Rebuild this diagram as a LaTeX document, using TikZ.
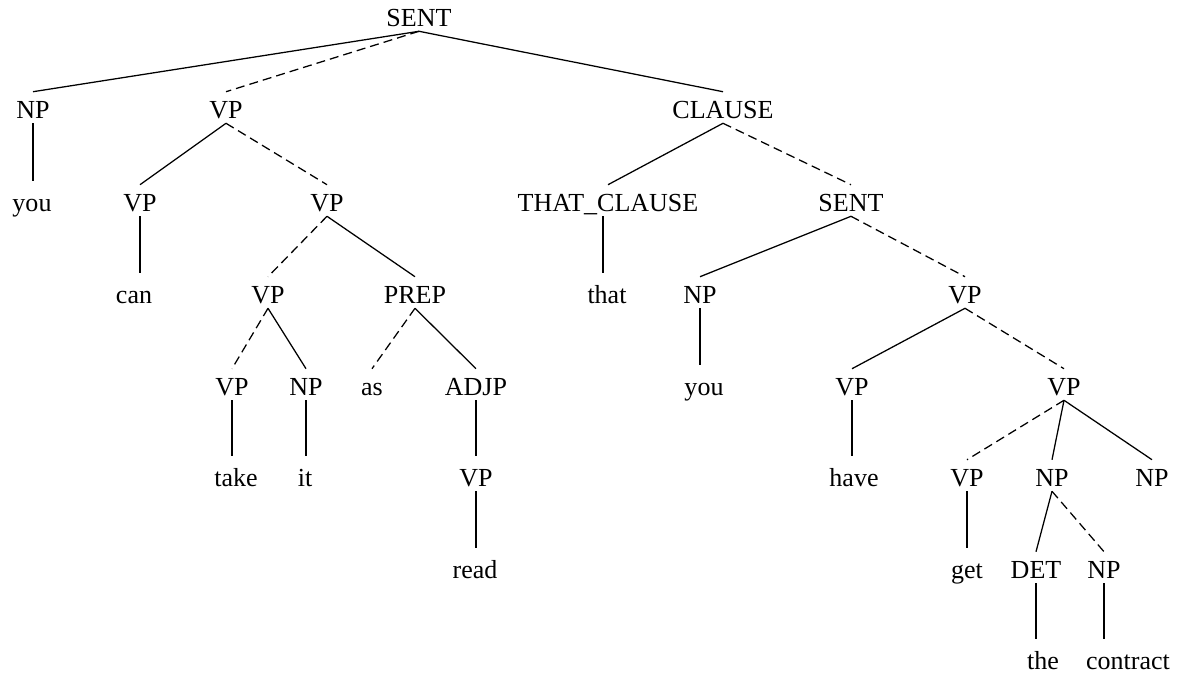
\documentclass[tikz,border=0pt]{standalone}
\usepackage{fontspec}
\setmainfont{Liberation Serif}
\tikzset{
  lbl/.style={inner sep=0pt, text height=18.85pt, text depth=3.2pt,
    font=\fontsize{18.5}{20}\selectfont},
  br/.style={line width=0.9pt},
  brd/.style={br, dash pattern=on 6.4pt off 3.6pt},
  stem/.style={br, shorten >=2.8pt}
}
\begin{document}
\begin{tikzpicture}[x=0.025cm, y=-0.025cm]
  \useasboundingbox (0,0) rectangle (1185,677);

  % Row 0
  \node [lbl] (sent) at (419,15.5) {SENT};

  % Row 1
  \node [lbl] (np1) at (33,107.5) {NP};
  \node [lbl] (vp1) at (226,107.5) {VP};
  \node [lbl] (clause) at (723,107.5) {CLAUSE};

  % Row 2
  \node [lbl] (you1) at (32,200.5) {you};
  \node [lbl] (vp2) at (140,200.5) {VP};
  \node [lbl] (vp3) at (327,200.5) {VP};
  \node [lbl] (thatcl) at (608,200.5) {THAT\_CLAUSE};
  \node [lbl] (sent2) at (851,200.5) {SENT};

  % Row 3
  \node [lbl] (can) at (134,292.5) {can};
  \node [lbl] (vp4) at (268,292.5) {VP};
  \node [lbl] (prep) at (415,292.5) {PREP};
  \node [lbl] (that) at (607,292.5) {that};
  \node [lbl] (np2) at (700,292.5) {NP};
  \node [lbl] (vp5) at (965,292.5) {VP};

  % Row 4
  \node [lbl] (vp6) at (232,384.5) {VP};
  \node [lbl] (np3) at (306,384.5) {NP};
  \node [lbl] (as) at (372,384.5) {as};
  \node [lbl] (adjp) at (476,384.5) {ADJP};
  \node [lbl] (you2) at (704,384.5) {you};
  \node [lbl] (vp7) at (852,384.5) {VP};
  \node [lbl] (vp8) at (1064,384.5) {VP};

  % Row 5
  \node [lbl] (take) at (236,475.5) {take};
  \node [lbl] (it) at (305,475.5) {it};
  \node [lbl] (vp9) at (476,475.5) {VP};
  \node [lbl] (have) at (854,475.5) {have};
  \node [lbl] (vp10) at (967,475.5) {VP};
  \node [lbl] (np4) at (1052,475.5) {NP};
  \node [lbl] (np5) at (1152,475.5) {NP};

  % Row 6
  \node [lbl] (read) at (475,567.5) {read};
  \node [lbl] (get) at (967,567.5) {get};
  \node [lbl] (det) at (1036,567.5) {DET};
  \node [lbl] (np6) at (1104,567.5) {NP};

  % Row 7
  \node [lbl] (the) at (1043,658.5) {the};
  \node [lbl] (contract) at (1128,658.5) {contract};

  % Branches of the top SENT
  \draw [br] (sent.south) -- (np1.north);
  \draw [brd] (sent.south) -- (vp1.north);
  \draw [br] (sent.south) -- (clause.north);

  % Left part: you can take it as read
  \draw [stem] (np1.south) -- (np1.south |- you1.north);
  \draw [br] (vp1.south) -- (vp2.north);
  \draw [brd] (vp1.south) -- (vp3.north);
  \draw [stem] (vp2.south) -- (vp2.south |- can.north);
  \draw [brd] (vp3.south) -- (vp4.north);
  \draw [br] (vp3.south) -- (prep.north);
  \draw [brd] (vp4.south) -- (vp6.north);
  \draw [br] (vp4.south) -- (np3.north);
  \draw [stem] (vp6.south) -- (vp6.south |- take.north);
  \draw [stem] (np3.south) -- (np3.south |- it.north);
  \draw [brd] (prep.south) -- (as.north);
  \draw [br] (prep.south) -- (adjp.north);
  \draw [stem] (adjp.south) -- (adjp.south |- vp9.north);
  \draw [stem] (vp9.south) -- (vp9.south |- read.north);

  % Right part: that you have get the contract
  \draw [br] (clause.south) -- (thatcl.north);
  \draw [brd] (clause.south) -- (sent2.north);
  \draw [stem] ([xshift=-3.5pt]thatcl.south) -- ([xshift=-3.5pt]thatcl.south |- that.north);
  \draw [br] (sent2.south) -- (np2.north);
  \draw [brd] (sent2.south) -- (vp5.north);
  \draw [stem] (np2.south) -- (np2.south |- you2.north);
  \draw [br] (vp5.south) -- (vp7.north);
  \draw [brd] (vp5.south) -- (vp8.north);
  \draw [stem] (vp7.south) -- (vp7.south |- have.north);
  \draw [brd] (vp8.south) -- (vp10.north);
  \draw [br] (vp8.south) -- (np4.north);
  \draw [br] (vp8.south) -- (np5.north);
  \draw [stem] (vp10.south) -- (vp10.south |- get.north);
  \draw [br] (np4.south) -- (det.north);
  \draw [brd] (np4.south) -- (np6.north);
  \draw [stem] (det.south) -- (det.south |- the.north);
  \draw [stem] (np6.south) -- (np6.south |- contract.north);
\end{tikzpicture}
\end{document}
